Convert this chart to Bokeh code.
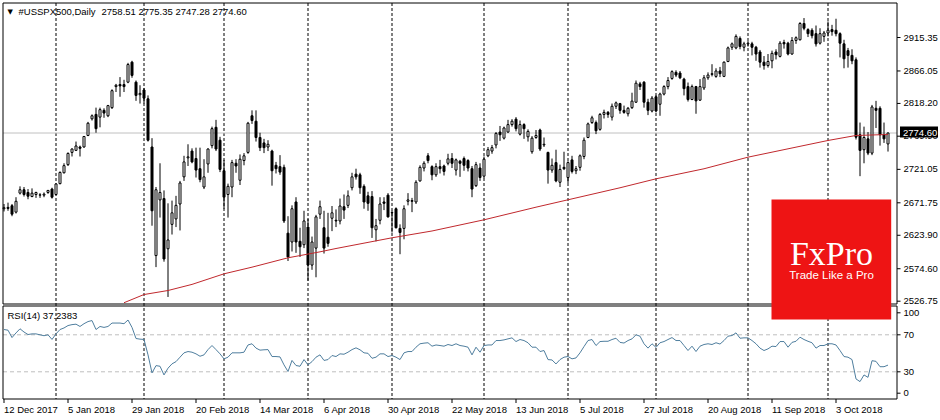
import pandas as pd
from bokeh.plotting import figure
from bokeh.models import Range1d, ColumnDataSource
from bokeh.core.properties import value
from bokeh.embed import file_html
from bokeh.resources import INLINE

# ---------------- data ----------------
symbol = "#USSPX500,Daily"
holidays = ["2017-12-25", "2018-01-01", "2018-03-30"]
dates = [d for d in pd.bdate_range("2017-12-12", "2018-10-22")
         if d.strftime("%Y-%m-%d") not in holidays]

opens = [
    2663, 2665, 2667.5, 2658, 2686, 2691, 2687, 2681, 2684, 2683, 2683, 2687, 2692,
    2684, 2700, 2716, 2728, 2746, 2749, 2754, 2754, 2771, 2795.5, 2802, 2798, 2808, 2800, 2812, 2843, 2846, 2846, 2849.5, 2879, 2849.5, 2831,
    2838, 2825, 2754, 2594, 2676, 2678, 2604, 2640, 2648, 2670, 2710, 2738, 2748, 2737, 2722, 2695, 2729, 2756, 2783, 2764,
    2719, 2684, 2695, 2730, 2705, 2734, 2746, 2800, 2792, 2768, 2760, 2754, 2748, 2727, 2725, 2724, 2627, 2614, 2673, 2615, 2610,
    2636, 2580, 2605, 2655, 2635, 2621, 2649, 2646, 2645, 2666, 2668, 2694, 2714, 2713, 2696, 2682, 2681, 2632, 2646, 2673, 2683,
    2657, 2663, 2634, 2634, 2674, 2675, 2673, 2704, 2723, 2741, 2725, 2713, 2725, 2726, 2730, 2737, 2720, 2733, 2737, 2734, 2722, 2697, 2723,
    2711, 2741, 2748, 2757, 2776, 2767, 2776, 2787, 2795, 2773, 2787, 2769, 2747, 2768, 2779, 2757, 2746, 2720, 2731, 2702, 2724,
    2709, 2735, 2719, 2724, 2740, 2768, 2790, 2790, 2780, 2802, 2805, 2798, 2814, 2818, 2808, 2803, 2812, 2820, 2847, 2849.5, 2820, 2807,
    2828, 2817, 2832, 2843, 2855, 2864, 2863, 2854, 2843, 2824, 2843, 2823, 2841, 2856, 2861, 2858, 2866, 2858, 2880, 2901, 2900, 2914, 2901,
    2906, 2906, 2901, 2894, 2879, 2874, 2881, 2894, 2887.5, 2908, 2907, 2891, 2911, 2912, 2936, 2927, 2926, 2921, 2907, 2917,
    2922, 2927, 2926, 2921, 2906, 2896, 2889, 2882.5, 2772, 2750, 2766, 2745, 2811, 2811, 2772, 2758.51,
]
highs = [
    2670, 2672, 2670, 2680, 2696, 2695, 2692, 2693, 2688, 2686, 2687, 2690, 2694,
    2700, 2718, 2730, 2746, 2752, 2762, 2756, 2770, 2791, 2802, 2812, 2812, 2811, 2816, 2839, 2847, 2857, 2853, 2878, 2881, 2852, 2845,
    2841, 2830, 2767, 2695, 2730, 2690, 2671, 2675, 2682, 2704, 2741, 2758, 2752, 2753, 2753, 2736, 2752, 2784, 2794, 2769,
    2735, 2700, 2735, 2736, 2743, 2745, 2791, 2808, 2808, 2775, 2766, 2764, 2750, 2732, 2742, 2728, 2652, 2668, 2680, 2635, 2660,
    2648, 2622, 2654, 2675, 2660, 2657, 2667, 2662, 2678, 2684, 2690, 2716, 2722, 2716, 2699, 2688, 2689, 2648, 2680, 2680, 2686,
    2660, 2665, 2640, 2668, 2686, 2679, 2705, 2727, 2733, 2745, 2727, 2730, 2735, 2728, 2744, 2745, 2737, 2735, 2740, 2736, 2726, 2732, 2730,
    2740, 2754, 2757, 2776, 2785, 2784, 2794, 2795, 2798, 2793, 2789, 2780, 2770, 2779, 2781, 2768, 2747, 2737, 2750, 2728, 2747,
    2733, 2741, 2726, 2743, 2768, 2790, 2800, 2793, 2804, 2809, 2807, 2818, 2821, 2819, 2815, 2813, 2834, 2852, 2850, 2851, 2825, 2829,
    2830, 2834, 2845, 2857, 2867, 2867, 2866, 2856, 2849, 2846, 2844, 2854, 2860, 2864, 2876, 2870, 2872, 2880, 2902, 2908, 2920, 2917, 2909,
    2910, 2909, 2903, 2897, 2888, 2891, 2896, 2898, 2910, 2912, 2909, 2916, 2917, 2938, 2944, 2929, 2929, 2933, 2929, 2925,
    2939, 2934, 2943, 2923, 2912, 2900, 2898, 2886, 2790, 2784, 2776, 2816, 2822, 2814, 2790, 2775.35,
]
lows = [
    2659, 2660, 2652, 2656, 2684, 2681, 2677, 2680, 2679, 2679, 2680, 2685, 2678,
    2683, 2699, 2715, 2726, 2740, 2748, 2740, 2753, 2770, 2793, 2775, 2783, 2797, 2798, 2810, 2835, 2828, 2835, 2848, 2856, 2822, 2818,
    2818, 2762, 2638, 2577, 2650, 2585, 2533, 2625, 2636, 2631, 2704, 2726, 2730, 2709, 2702, 2692, 2716, 2752, 2748, 2717,
    2663, 2650, 2680, 2716, 2698, 2727, 2744, 2788, 2762, 2748, 2745, 2748, 2697, 2715, 2713, 2642, 2586, 2600, 2598, 2592, 2605,
    2557, 2573, 2562, 2648, 2597, 2607, 2630, 2636, 2640, 2648, 2664, 2690, 2706, 2685, 2663, 2660, 2620, 2615, 2640, 2661, 2650,
    2628, 2634, 2596, 2618, 2668, 2658, 2670, 2703, 2718, 2730, 2705, 2710, 2715, 2712, 2727, 2723, 2712, 2710, 2719, 2718, 2680, 2695, 2704,
    2708, 2739, 2744, 2752, 2763, 2765, 2775, 2784, 2777, 2771, 2766, 2762, 2744, 2766, 2748, 2754, 2700, 2716, 2702, 2695, 2720,
    2701, 2715, 2714, 2719, 2736, 2767, 2788, 2773, 2778, 2796, 2797, 2793, 2810, 2803, 2803, 2799, 2810, 2819, 2838, 2812, 2801, 2805,
    2805, 2800, 2830, 2839, 2853, 2857, 2854, 2830, 2821, 2823, 2803, 2822, 2838, 2853, 2858, 2856, 2857, 2857, 2879, 2897, 2898, 2898, 2895,
    2902, 2889, 2881, 2871, 2868, 2871, 2870, 2883, 2886, 2899, 2889, 2890, 2906, 2911, 2926, 2916, 2914, 2902, 2905, 2909,
    2917, 2918, 2917, 2886, 2870, 2871, 2876, 2765, 2711, 2730, 2742, 2742, 2782, 2756, 2760, 2747.28,
]
closes = [
    2664.5, 2663.5, 2655, 2674, 2691, 2684, 2681.5, 2686, 2687, 2683.5, 2684.5, 2690, 2680,
    2699.5, 2716.5, 2726.5, 2744.5, 2751, 2755.5, 2752, 2769.5, 2789, 2800, 2781, 2809, 2804, 2815, 2837, 2845, 2844, 2843, 2875.5, 2859.5, 2830, 2833,
    2826, 2764, 2660, 2691, 2687, 2589, 2617, 2657, 2668, 2701, 2732, 2739.5, 2732, 2720, 2706, 2710, 2751, 2781, 2751, 2721,
    2680, 2696, 2731, 2726, 2736, 2741, 2789, 2793, 2768, 2753, 2753, 2758, 2719, 2722, 2717, 2645, 2592, 2663, 2614, 2607, 2645,
    2580, 2614, 2651, 2666, 2605, 2612, 2657, 2645, 2667, 2661, 2682, 2710, 2710, 2694, 2673, 2671, 2635, 2638, 2670, 2671, 2651,
    2657.5, 2635, 2628, 2663, 2676, 2674, 2702, 2724, 2730, 2734, 2713, 2725, 2722, 2718, 2736.5, 2730, 2735, 2730, 2727, 2723, 2692, 2728, 2709,
    2736, 2750, 2753, 2774, 2772, 2782, 2787, 2792, 2781, 2787, 2781, 2777, 2767, 2771, 2751, 2758, 2720, 2727, 2704, 2721, 2722,
    2731, 2718, 2722, 2741, 2764, 2788, 2797, 2778, 2802, 2805, 2802, 2814, 2819, 2808, 2805, 2811, 2821.6, 2848, 2843, 2820, 2808, 2826,
    2807, 2832, 2843, 2852, 2865, 2860, 2856, 2840, 2824, 2843, 2822, 2843, 2856, 2860, 2862, 2866, 2862, 2879, 2900, 2906, 2917, 2902, 2906,
    2907, 2901, 2891, 2879, 2874, 2880, 2892, 2890, 2907, 2906, 2891, 2911, 2915, 2936, 2929, 2921, 2918, 2906, 2921, 2922,
    2926, 2924, 2921, 2907, 2884, 2889, 2881, 2768.5, 2749, 2768, 2745, 2813, 2808, 2772, 2766, 2774.60,
]
rsi = [
    75.7, 75.0, 67.0, 72.0, 76.5, 73.0, 70.3, 71.0, 71.0, 70.0, 69.0, 70.0, 65.0,
    71.0, 75.7, 77.4, 80.0, 81.0, 81.5, 79.0, 82.0, 84.3, 85.4, 75.7, 79.0, 78.0, 79.0, 82.7, 82.7, 82.7, 82.0, 86.0, 78.0, 66.0, 65.3,
    65.0, 48.3, 28.8, 36.7, 36.0, 26.6, 33.9, 38.6, 41.0, 45.8, 50.5, 51.9, 51.2, 49.4, 46.8, 48.3, 54.0, 58.4, 54.0, 49.4,
    44.0, 45.8, 50.5, 50.5, 50.5, 51.2, 59.0, 60.3, 55.6, 53.4, 53.8, 54.0, 46.5, 46.5, 46.1, 37.5, 30.3, 42.3, 36.8, 36.0, 43.2,
    37.5, 41.0, 45.8, 48.3, 42.3, 43.2, 47.6, 46.5, 49.4, 49.0, 51.2, 54.0, 55.9, 53.8, 50.5, 50.0, 44.6, 45.8, 49.4, 49.4, 46.5,
    47.6, 45.8, 43.2, 50.5, 51.9, 51.9, 56.6, 60.3, 61.0, 61.4, 57.7, 59.0, 58.4, 57.7, 59.5, 58.4, 60.3, 58.4, 57.7, 56.6, 48.3, 56.6, 51.2,
    58.4, 59.0, 59.0, 63.8, 63.8, 64.5, 65.6, 66.7, 62.7, 64.9, 63.8, 61.4, 56.6, 56.6, 51.9, 53.0, 43.2, 42.8, 38.5, 43.2, 45.8,
    46.5, 44.0, 45.0, 50.5, 57.3, 63.8, 64.9, 58.4, 62.7, 63.0, 63.0, 64.9, 66.3, 61.8, 61.1, 63.8, 65.6, 70.0, 68.5, 60.3, 55.6, 60.3,
    56.4, 61.4, 62.7, 64.9, 67.0, 63.8, 63.8, 58.4, 53.0, 57.7, 51.9, 57.7, 59.5, 60.3, 59.5, 61.4, 60.0, 63.8, 68.5, 69.2, 72.1, 66.3, 66.7,
    66.7, 63.8, 60.3, 55.6, 53.0, 54.8, 57.7, 57.3, 62.7, 62.7, 56.6, 61.8, 63.0, 67.4, 64.9, 63.0, 61.4, 55.6, 58.4, 58.4,
    60.3, 60.3, 59.0, 53.0, 46.5, 45.8, 43.2, 22.3, 19.4, 26.6, 24.0, 42.0, 41.3, 35.5, 35.5, 37.2383,
]
# 200-day moving average
ma_dates = ["2018-01-25", "2018-02-01", "2018-02-09", "2018-02-19", "2018-03-01", "2018-03-12",
            "2018-03-23", "2018-04-05", "2018-04-11", "2018-05-01", "2018-05-15", "2018-06-01",
            "2018-06-20", "2018-07-02", "2018-07-19", "2018-08-01", "2018-08-17", "2018-09-03",
            "2018-09-17", "2018-10-01", "2018-10-10", "2018-10-22"]
ma_values = [2524.5, 2536.6, 2542.5, 2551.5, 2567.1, 2576.9, 2590.7, 2599.5, 2604.4, 2620.2, 2630.2,
             2646.7, 2665.3, 2676.2, 2693.9, 2707.1, 2721.9, 2739.0, 2751.3, 2763.6, 2771.0, 2772.4]

price_ticks = [2526.75, 2574.60, 2623.90, 2671.75, 2721.05, 2769.90, 2818.20, 2866.05, 2915.35]
rsi_levels = [70, 30]
rsi_tick_labels = ["100", "70", "30", "0"]
date_tick_dates = ["2017-12-12", "2018-01-05", "2018-01-29", "2018-02-20", "2018-03-14", "2018-04-06",
                   "2018-04-30", "2018-05-22", "2018-06-13", "2018-07-05", "2018-07-27", "2018-08-20",
                   "2018-09-11", "2018-10-03"]
date_tick_labels = ["12 Dec 2017", "5 Jan 2018", "29 Jan 2018", "20 Feb 2018", "14 Mar 2018", "6 Apr 2018",
                    "30 Apr 2018", "22 May 2018", "13 Jun 2018", "5 Jul 2018", "27 Jul 2018", "20 Aug 2018",
                    "11 Sep 2018", "3 Oct 2018"]

n = len(dates)
assert all(len(a) == n for a in (opens, highs, lows, closes, rsi)), [len(a) for a in (dates, opens, highs, lows, closes, rsi)]
date_pos = {d.strftime("%Y-%m-%d"): i for i, d in enumerate(dates)}

# ---------------- geometry (style only) ----------------
W, H = 940, 420
BAR_PX, BAR0_PX = 4.0, 3.5                                   # bar spacing, centre of first bar
(pa, ya), (pb, yb) = (2915.35, 37.0), (2526.75, 300.7)       # price scale anchors (value, row)
kp = (pa - pb) / (yb - ya)
(ra, yra), (rb, yrb) = (70.0, 334.3), (30.0, 371.3)          # RSI scale anchors
kr = (ra - rb) / (yrb - yra)


def X(px):
    return (px - BAR0_PX) / BAR_PX


def P(py):
    return pa - (py - ya) * kp


def R(py):
    return ra - (py - yra) * kr


L_, R_ = 2.5, 896.5            # panel left / right edges
MT, MB = 2.5, 303.5            # main window top / bottom
ST, SB = 305.5, 398.5          # RSI window top / bottom
FONT = value("Liberation Sans")
FS = value("9.5px")

p = figure(width=W, height=H, x_range=Range1d(X(0), X(W)), y_range=Range1d(P(H), P(0)),
           x_axis_location=None, y_axis_location=None, output_backend="svg",
           toolbar_location=None, min_border=0)
p.extra_y_ranges = {"rsi": Range1d(R(H), R(0))}
p.background_fill_color = "white"
p.border_fill_color = "white"
p.outline_line_color = None
p.xgrid.visible = False
p.ygrid.visible = False

# month separators
sep = [i for i in range(1, n) if dates[i].month != dates[i - 1].month]
p.segment(x0=sep, x1=sep, y0=[P(MT)] * len(sep), y1=[P(SB)] * len(sep),
          line_color="black", line_dash="3 2", line_width=1)

# current price line
p.segment(x0=[X(L_)], x1=[X(R_)], y0=[closes[-1]], y1=[closes[-1]], line_color="#C0C0C0", line_width=1)
# RSI levels
p.segment(x0=[X(L_)] * 2, x1=[X(R_)] * 2, y0=rsi_levels, y1=rsi_levels, y_range_name="rsi",
          line_color="#BEBEBE", line_dash="4 3", line_width=1)

# candles
src = ColumnDataSource(dict(
    x=list(range(n)), h=highs, l=lows,
    top=[max(o, c) for o, c in zip(opens, closes)],
    bottom=[min(o, c) for o, c in zip(opens, closes)],
    fill=["white" if c >= o else "black" for o, c in zip(opens, closes)],
))
p.segment(x0="x", y0="h", x1="x", y1="l", source=src, line_color="black", line_width=1)
p.vbar(x="x", width=0.5, top="top", bottom="bottom", fill_color="fill",
       line_color="black", line_width=1, source=src)

# 200 MA
p.line(x=[date_pos[d] for d in ma_dates], y=ma_values, line_color="#C0282D", line_width=1)

# RSI(14)
p.line(x=list(range(n)), y=rsi, y_range_name="rsi", line_color="#4F7E9E", line_width=1)

# window borders
p.quad(left=[X(L_)] * 2, right=[X(R_)] * 2, top=[P(MT), P(ST)], bottom=[P(MB), P(SB)],
       fill_color=None, line_color="black", line_width=1)

# ---------------- price scale (right) ----------------
p.segment(x0=[X(R_)] * len(price_ticks), x1=[X(R_ + 3.5)] * len(price_ticks),
          y0=price_ticks, y1=price_ticks, line_color="black", line_width=1)
p.text(x=[X(903)] * len(price_ticks), y=price_ticks, text=[f"{v:.2f}" for v in price_ticks],
       text_font=FONT, text_font_size=FS, text_baseline="middle", text_align="left", text_color="black")

rsi_label_y = [R(312.3), 70, 30, R(392.7)]
p.segment(x0=[X(R_)] * 4, x1=[X(R_ + 3.5)] * 4, y0=rsi_label_y, y1=rsi_label_y, y_range_name="rsi",
          line_color="black", line_width=1)
p.text(x=[X(903)] * 4, y=rsi_label_y, text=rsi_tick_labels, y_range_name="rsi",
       text_font=FONT, text_font_size=FS, text_baseline="middle", text_align="left", text_color="black")

# ---------------- time scale (bottom) ----------------
tick_idx = [date_pos[d] for d in date_tick_dates]
p.segment(x0=tick_idx, x1=tick_idx, y0=[P(SB)] * len(tick_idx), y1=[P(SB + 4)] * len(tick_idx),
          line_color="black", line_width=1)
p.text(x=tick_idx, y=[P(408.5)] * len(tick_idx), text=date_tick_labels, text_font=FONT,
       text_font_size=FS, text_baseline="middle", text_align="left", text_color="black")

# current price tag
p.quad(left=[X(899.5)], right=[X(937.5)], top=[P(126)], bottom=[P(137)], fill_color="black", line_color=None)
p.text(x=[X(902.5)], y=[closes[-1]], text=[f"{closes[-1]:.2f}"], text_font=FONT, text_font_size=FS,
       text_baseline="middle", text_align="left", text_color="white")

# ---------------- headers ----------------
p.text(x=[X(7)], y=[P(11)], text=["\u25BC"], text_font=value("DejaVu Sans"), text_font_size=value("7px"),
       text_baseline="middle", text_align="left", text_color="black")
p.text(x=[X(18), X(101)], y=[P(11)] * 2,
       text=[symbol, f"{opens[-1]:.2f} {highs[-1]:.2f} {lows[-1]:.2f} {closes[-1]:.2f}"],
       text_font=FONT, text_font_size=FS, text_baseline="middle", text_align="left", text_color="black")
p.text(x=[X(7)], y=[P(314.5)], text=[f"RSI(14) {rsi[-1]:.4f}"], text_font=FONT, text_font_size=FS,
       text_baseline="middle", text_align="left", text_color="black")

# ---------------- FxPro logo ----------------
p.quad(left=[X(771)], right=[X(890.7)], top=[P(199)], bottom=[P(319)], fill_color="#EE1414", line_color=None)
p.text(x=[X(831)], y=[P(253)], text=["FxPro"], text_font=value("Liberation Serif"), text_font_size=value("34px"),
       text_baseline="middle", text_align="center", text_color="white")
p.text(x=[X(831)], y=[P(274)], text=["Trade Like a Pro"], text_font=FONT, text_font_size=value("11.5px"),
       text_baseline="middle", text_align="center", text_color="white")

open("out.html", "w").write(file_html(p, INLINE))
